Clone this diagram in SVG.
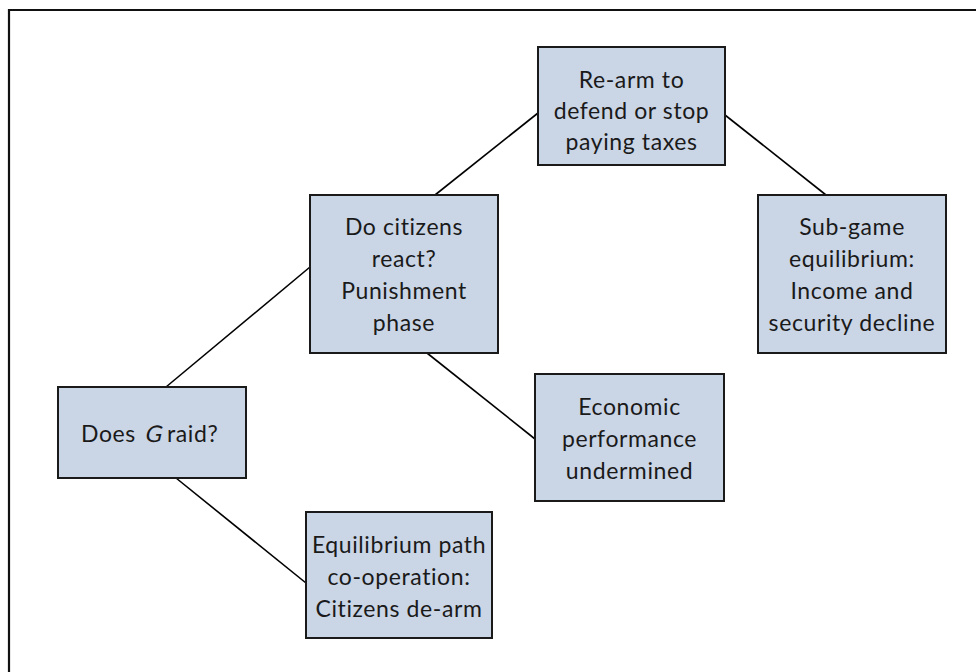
<svg xmlns="http://www.w3.org/2000/svg" width="976" height="672" viewBox="0 0 976 672">
<style>
.box{fill:#cad5e6;stroke:#1a1a1a;stroke-width:2}
.t{font-family:Lato,"Liberation Sans",sans-serif;font-size:23px;letter-spacing:0.6px;fill:#1a1a1a;text-anchor:middle}
.s{text-anchor:start}
.c{stroke:#000;stroke-width:1.6;fill:none}
</style>
<rect width="976" height="672" fill="#fff"/>
<path d="M9,672 V10 H976" fill="none" stroke="#111" stroke-width="2.2"/>
<g id="connectors">
<line class="c" x1="166" y1="387" x2="310" y2="267"/>
<line class="c" x1="176" y1="478" x2="306" y2="583"/>
<line class="c" x1="435" y1="195" x2="538" y2="113"/>
<line class="c" x1="427" y1="353" x2="535" y2="439"/>
<line class="c" x1="725" y1="115" x2="826" y2="195"/>
</g>
<g id="n1">
<rect class="box" x="58" y="387" width="188" height="91"/>
<text class="t s" x="81" y="442">Does</text>
<text class="t s" transform="translate(144,442) skewX(-13)" x="0" y="0">G</text>
<text class="t s" x="167" y="442">raid?</text>
</g>
<g id="n2">
<rect class="box" x="310" y="195" width="188" height="158"/>
<text class="t" x="404" y="235">Do citizens</text>
<text class="t" x="404" y="267">react?</text>
<text class="t" x="404" y="299">Punishment</text>
<text class="t" x="404" y="331">phase</text>
</g>
<g id="n3">
<rect class="box" x="538" y="47" width="187" height="118"/>
<text class="t" x="631.5" y="88">Re-arm to</text>
<text class="t" x="631.5" y="119">defend or stop</text>
<text class="t" x="631.5" y="150">paying taxes</text>
</g>
<g id="n4">
<rect class="box" x="306" y="512" width="186" height="126"/>
<text class="t" x="399" y="553">Equilibrium path</text>
<text class="t" x="399" y="585">co-operation:</text>
<text class="t" x="399" y="617">Citizens de-arm</text>
</g>
<g id="n5">
<rect class="box" x="535" y="374" width="189" height="127"/>
<text class="t" x="629.5" y="415">Economic</text>
<text class="t" x="629.5" y="447">performance</text>
<text class="t" x="629.5" y="479">undermined</text>
</g>
<g id="n6">
<rect class="box" x="758" y="195" width="188" height="158"/>
<text class="t" x="852" y="235">Sub-game</text>
<text class="t" x="852" y="267">equilibrium:</text>
<text class="t" x="852" y="299">Income and</text>
<text class="t" x="852" y="331">security decline</text>
</g>
</svg>
